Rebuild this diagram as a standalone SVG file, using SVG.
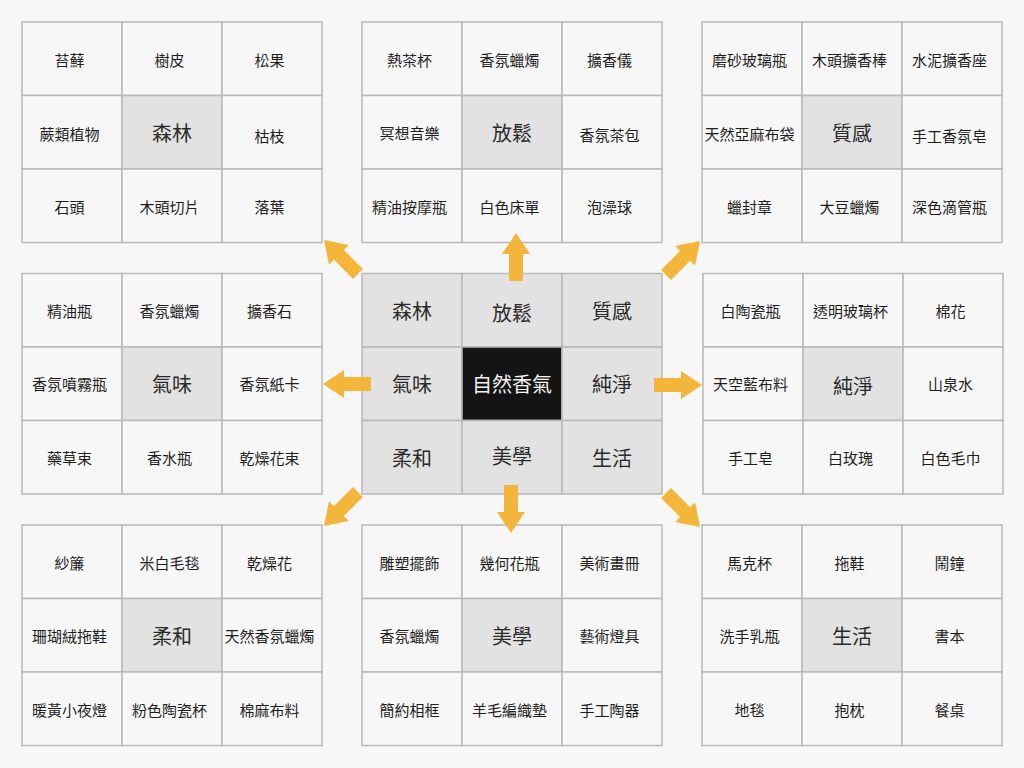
<svg xmlns="http://www.w3.org/2000/svg" xmlns:xlink="http://www.w3.org/1999/xlink" width="1024" height="768" viewBox="0 0 1024 768">
<style>
.c{fill:#f7f7f7;stroke:#b8b8b8;stroke-width:1.5}
.k{fill:#e2e2e2;stroke:#b8b8b8;stroke-width:1.5}
.d{fill:#141414;stroke:#b8b8b8;stroke-width:1.5}
text{font-family:"Noto Sans CJK TC","Noto Sans CJK SC",sans-serif;text-anchor:middle;dominant-baseline:central;fill:#1e1e1e}
.s{font-size:15px;transform:translate(-2.5px,0)}
.b{font-size:20px;fill:#2a2a2a}
.w{font-size:20px;fill:#f2f2f2}
.arr{fill:#f3b53a}
</style>
<defs>
<path id="arw" d="M0,0 L-21,-14 L-21,-7 L-48,-7 L-48,7 L-21,7 L-21,14 Z"/>
</defs>
<rect x="0" y="0" width="1024" height="768" fill="#f7f7f7"/>

<g id="block-forest" transform="translate(22,22)">
<rect class="c" x="0" y="0" width="100" height="73.5"/><rect class="c" x="100" y="0" width="100" height="73.5"/><rect class="c" x="200" y="0" width="100" height="73.5"/>
<rect class="c" x="0" y="73.5" width="100" height="73.5"/><rect class="k" x="100" y="73.5" width="100" height="73.5"/><rect class="c" x="200" y="73.5" width="100" height="73.5"/>
<rect class="c" x="0" y="147" width="100" height="73.5"/><rect class="c" x="100" y="147" width="100" height="73.5"/><rect class="c" x="200" y="147" width="100" height="73.5"/>
<text class="s" x="50" y="37">苔蘚</text><text class="s" x="150" y="37">樹皮</text><text class="s" x="250" y="37">松果</text>
<text class="s" x="50" y="111">蕨類植物</text><text class="b" x="150" y="110">森林</text><text class="s" x="250" y="113">枯枝</text>
<text class="s" x="50" y="184">石頭</text><text class="s" x="150" y="184">木頭切片</text><text class="s" x="250" y="184">落葉</text>
</g>

<g id="block-relax" transform="translate(362,22)">
<rect class="c" x="0" y="0" width="100" height="73.5"/><rect class="c" x="100" y="0" width="100" height="73.5"/><rect class="c" x="200" y="0" width="100" height="73.5"/>
<rect class="c" x="0" y="73.5" width="100" height="73.5"/><rect class="k" x="100" y="73.5" width="100" height="73.5"/><rect class="c" x="200" y="73.5" width="100" height="73.5"/>
<rect class="c" x="0" y="147" width="100" height="73.5"/><rect class="c" x="100" y="147" width="100" height="73.5"/><rect class="c" x="200" y="147" width="100" height="73.5"/>
<text class="s" x="50" y="37">熱茶杯</text><text class="s" x="150" y="37">香氛蠟燭</text><text class="s" x="250" y="37">擴香儀</text>
<text class="s" x="50" y="110">冥想音樂</text><text class="b" x="150" y="110">放鬆</text><text class="s" x="250" y="112">香氛茶包</text>
<text class="s" x="50" y="184">精油按摩瓶</text><text class="s" x="150" y="184">白色床單</text><text class="s" x="250" y="184">泡澡球</text>
</g>

<g id="block-texture" transform="translate(702,22)">
<rect class="c" x="0" y="0" width="100" height="73.5"/><rect class="c" x="100" y="0" width="100" height="73.5"/><rect class="c" x="200" y="0" width="100" height="73.5"/>
<rect class="c" x="0" y="73.5" width="100" height="73.5"/><rect class="k" x="100" y="73.5" width="100" height="73.5"/><rect class="c" x="200" y="73.5" width="100" height="73.5"/>
<rect class="c" x="0" y="147" width="100" height="73.5"/><rect class="c" x="100" y="147" width="100" height="73.5"/><rect class="c" x="200" y="147" width="100" height="73.5"/>
<text class="s" x="50" y="37">磨砂玻璃瓶</text><text class="s" x="150" y="37">木頭擴香棒</text><text class="s" x="250" y="37">水泥擴香座</text>
<text class="s" x="50" y="111">天然亞麻布袋</text><text class="b" x="150" y="110">質感</text><text class="s" x="250" y="113">手工香氛皂</text>
<text class="s" x="50" y="184">蠟封章</text><text class="s" x="150" y="184">大豆蠟燭</text><text class="s" x="250" y="184">深色滴管瓶</text>
</g>

<g id="block-scent" transform="translate(22,273.5)">
<rect class="c" x="0" y="0" width="100" height="73.5"/><rect class="c" x="100" y="0" width="100" height="73.5"/><rect class="c" x="200" y="0" width="100" height="73.5"/>
<rect class="c" x="0" y="73.5" width="100" height="73.5"/><rect class="k" x="100" y="73.5" width="100" height="73.5"/><rect class="c" x="200" y="73.5" width="100" height="73.5"/>
<rect class="c" x="0" y="147" width="100" height="73.5"/><rect class="c" x="100" y="147" width="100" height="73.5"/><rect class="c" x="200" y="147" width="100" height="73.5"/>
<text class="s" x="50" y="37">精油瓶</text><text class="s" x="150" y="37">香氛蠟燭</text><text class="s" x="250" y="37">擴香石</text>
<text class="s" x="50" y="110">香氛噴霧瓶</text><text class="b" x="150" y="110">氣味</text><text class="s" x="250" y="110">香氛紙卡</text>
<text class="s" x="50" y="184">藥草束</text><text class="s" x="150" y="184">香水瓶</text><text class="s" x="250" y="184">乾燥花束</text>
</g>

<g id="block-center" transform="translate(362,273.5)">
<rect class="k" x="0" y="0" width="100" height="73.5"/><rect class="k" x="100" y="0" width="100" height="73.5"/><rect class="k" x="200" y="0" width="100" height="73.5"/>
<rect class="k" x="0" y="73.5" width="100" height="73.5"/><rect class="d" x="100" y="73.5" width="100" height="73.5"/><rect class="k" x="200" y="73.5" width="100" height="73.5"/>
<rect class="k" x="0" y="147" width="100" height="73.5"/><rect class="k" x="100" y="147" width="100" height="73.5"/><rect class="k" x="200" y="147" width="100" height="73.5"/>
<text class="b" x="50" y="37">森林</text><text class="b" x="150" y="39">放鬆</text><text class="b" x="250" y="37">質感</text>
<text class="b" x="50" y="110">氣味</text><text class="w" x="150" y="110">自然香氣</text><text class="b" x="250" y="110">純淨</text>
<text class="b" x="50" y="184">柔和</text><text class="b" x="150" y="182">美學</text><text class="b" x="250" y="184">生活</text>
</g>

<g id="block-pure" transform="translate(703,273.5)">
<rect class="c" x="0" y="0" width="100" height="73.5"/><rect class="c" x="100" y="0" width="100" height="73.5"/><rect class="c" x="200" y="0" width="100" height="73.5"/>
<rect class="c" x="0" y="73.5" width="100" height="73.5"/><rect class="k" x="100" y="73.5" width="100" height="73.5"/><rect class="c" x="200" y="73.5" width="100" height="73.5"/>
<rect class="c" x="0" y="147" width="100" height="73.5"/><rect class="c" x="100" y="147" width="100" height="73.5"/><rect class="c" x="200" y="147" width="100" height="73.5"/>
<text class="s" x="50" y="37">白陶瓷瓶</text><text class="s" x="150" y="37">透明玻璃杯</text><text class="s" x="250" y="37">棉花</text>
<text class="s" x="50" y="110">天空藍布料</text><text class="b" x="150" y="112">純淨</text><text class="s" x="250" y="110">山泉水</text>
<text class="s" x="50" y="184">手工皂</text><text class="s" x="150" y="184">白玫瑰</text><text class="s" x="250" y="184">白色毛巾</text>
</g>

<g id="block-soft" transform="translate(22,525)">
<rect class="c" x="0" y="0" width="100" height="73.5"/><rect class="c" x="100" y="0" width="100" height="73.5"/><rect class="c" x="200" y="0" width="100" height="73.5"/>
<rect class="c" x="0" y="73.5" width="100" height="73.5"/><rect class="k" x="100" y="73.5" width="100" height="73.5"/><rect class="c" x="200" y="73.5" width="100" height="73.5"/>
<rect class="c" x="0" y="147" width="100" height="73.5"/><rect class="c" x="100" y="147" width="100" height="73.5"/><rect class="c" x="200" y="147" width="100" height="73.5"/>
<text class="s" x="50" y="37">紗簾</text><text class="s" x="150" y="37">米白毛毯</text><text class="s" x="250" y="37">乾燥花</text>
<text class="s" x="50" y="110">珊瑚絨拖鞋</text><text class="b" x="150" y="110">柔和</text><text class="s" x="250" y="110">天然香氛蠟燭</text>
<text class="s" x="50" y="184">暖黃小夜燈</text><text class="s" x="150" y="184">粉色陶瓷杯</text><text class="s" x="250" y="184">棉麻布料</text>
</g>

<g id="block-aesthetic" transform="translate(362,525)">
<rect class="c" x="0" y="0" width="100" height="73.5"/><rect class="c" x="100" y="0" width="100" height="73.5"/><rect class="c" x="200" y="0" width="100" height="73.5"/>
<rect class="c" x="0" y="73.5" width="100" height="73.5"/><rect class="k" x="100" y="73.5" width="100" height="73.5"/><rect class="c" x="200" y="73.5" width="100" height="73.5"/>
<rect class="c" x="0" y="147" width="100" height="73.5"/><rect class="c" x="100" y="147" width="100" height="73.5"/><rect class="c" x="200" y="147" width="100" height="73.5"/>
<text class="s" x="50" y="37">雕塑擺飾</text><text class="s" x="150" y="37">幾何花瓶</text><text class="s" x="250" y="37">美術畫冊</text>
<text class="s" x="50" y="110">香氛蠟燭</text><text class="b" x="150" y="110">美學</text><text class="s" x="250" y="110">藝術燈具</text>
<text class="s" x="50" y="184">簡約相框</text><text class="s" x="150" y="184">羊毛編織墊</text><text class="s" x="250" y="184">手工陶器</text>
</g>

<g id="block-life" transform="translate(702,525)">
<rect class="c" x="0" y="0" width="100" height="73.5"/><rect class="c" x="100" y="0" width="100" height="73.5"/><rect class="c" x="200" y="0" width="100" height="73.5"/>
<rect class="c" x="0" y="73.5" width="100" height="73.5"/><rect class="k" x="100" y="73.5" width="100" height="73.5"/><rect class="c" x="200" y="73.5" width="100" height="73.5"/>
<rect class="c" x="0" y="147" width="100" height="73.5"/><rect class="c" x="100" y="147" width="100" height="73.5"/><rect class="c" x="200" y="147" width="100" height="73.5"/>
<text class="s" x="50" y="37">馬克杯</text><text class="s" x="150" y="37">拖鞋</text><text class="s" x="250" y="37">鬧鐘</text>
<text class="s" x="50" y="110">洗手乳瓶</text><text class="b" x="150" y="110">生活</text><text class="s" x="250" y="110">書本</text>
<text class="s" x="50" y="184">地毯</text><text class="s" x="150" y="184">抱枕</text><text class="s" x="250" y="184">餐桌</text>
</g>

<g id="connectors" class="arr">
<use href="#arw" xlink:href="#arw" transform="translate(516,233) rotate(-90)"/>
<use href="#arw" xlink:href="#arw" transform="translate(511,533) rotate(90)"/>
<use href="#arw" xlink:href="#arw" transform="translate(323,384) rotate(180)"/>
<use href="#arw" xlink:href="#arw" transform="translate(702,385)"/>
<use href="#arw" xlink:href="#arw" transform="translate(324,240) rotate(-135)"/>
<use href="#arw" xlink:href="#arw" transform="translate(700,241) rotate(-45)"/>
<use href="#arw" xlink:href="#arw" transform="translate(324,526) rotate(135)"/>
<use href="#arw" xlink:href="#arw" transform="translate(700,527) rotate(45)"/>
</g>
</svg>
